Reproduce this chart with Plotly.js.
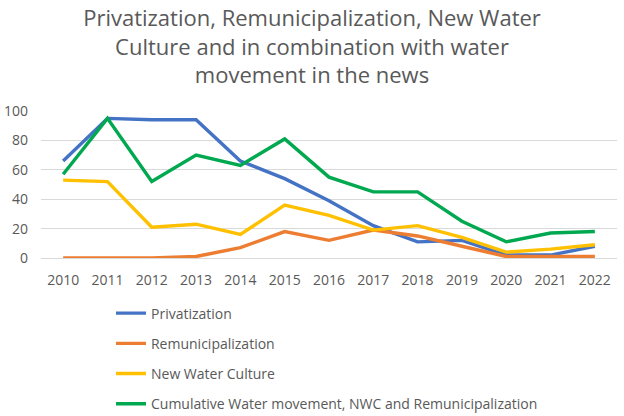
<!DOCTYPE html>
<html>
<head>
<meta charset="utf-8">
<script src="https://cdn.plot.ly/plotly-3.0.1.min.js"></script>
<style>
  html, body { margin: 0; padding: 0; background: #fff; }
  #chart { width: 624px; height: 416px; }
</style>
</head>
<body>
<div id="chart"></div>
<script>
// Yearly counts of news items
const years = ['2010', '2011', '2012', '2013', '2014', '2015', '2016',
               '2017', '2018', '2019', '2020', '2021', '2022'];

const privatization      = [66, 95, 94, 94, 66, 54, 39, 22, 11, 12, 2, 2, 8];
const remunicipalization = [0, 0, 0, 1, 7, 18, 12, 19, 15, 8, 1, 1, 1];
const newWaterCulture    = [53, 52, 21, 23, 16, 36, 29, 19, 22, 14, 4, 6, 9];
const cumulative         = [57, 95, 52, 70, 63, 81, 55, 45, 45, 25, 11, 17, 18];

const seriesNames = [
  'Privatization',
  'Remunicipalization',
  'New Water Culture',
  'Cumulative Water movement, NWC and Remunicipalization',
];

const TEXT = '#595959';
const FONT = 'Open Sans, sans-serif';

function line(name, y, color) {
  return {
    x: years,
    y: y,
    name: name,
    legendgroup: name,
    type: 'scatter',
    mode: 'lines',
    line: { color: color, width: 3.4 },
  };
}

const traces = [
  line(seriesNames[0], privatization, '#4472C4'),
  line(seriesNames[1], remunicipalization, '#ED7D31'),
  line(seriesNames[2], newWaterCulture, '#FFC000'),
  line(seriesNames[3], cumulative, '#00A84F'),
];

const layout = {
  width: 624,
  height: 416,
  paper_bgcolor: '#fff',
  plot_bgcolor: '#fff',
  font: { family: FONT, size: 14, color: TEXT },
  margin: { t: 111, r: 7, b: 158, l: 41, pad: 0, autoexpand: false },
  title: {
    text: 'Privatization, Remunicipalization, New Water<br>' +
          'Culture and in combination with water<br>movement in the news',
    font: { family: FONT, size: 22, color: TEXT },
    x: 0.5,
    xanchor: 'center',
    xref: 'container',
    y: 0.937,
    yanchor: 'top',
    yref: 'container',
  },
  showlegend: true,
  legend: {
    orientation: 'v',
    x: 0.1215,
    xanchor: 'left',
    y: -0.269,
    yanchor: 'top',
    traceorder: 'grouped',
    tracegroupgap: 9,
    font: { family: FONT, size: 14, color: TEXT },
    itemwidth: 30,
  },
  xaxis: {
    type: 'category',
    range: [-0.5, 12.5],
    showgrid: false,
    zeroline: false,
    showline: false,
    ticks: '',
    ticklabelstandoff: 12,
    tickfont: { family: FONT, size: 14, color: TEXT },
    fixedrange: true,
  },
  yaxis: {
    range: [0, 100],
    dtick: 20,
    showgrid: true,
    gridcolor: '#D9D9D9',
    gridwidth: 1,
    zeroline: true,
    zerolinecolor: '#D9D9D9',
    zerolinewidth: 1,
    showline: false,
    ticks: '',
    ticklabelstandoff: 12,
    tickfont: { family: FONT, size: 14, color: TEXT },
    fixedrange: true,
  },
};

Plotly.newPlot('chart', traces, layout, { displayModeBar: false, staticPlot: true });
</script>
</body>
</html>
